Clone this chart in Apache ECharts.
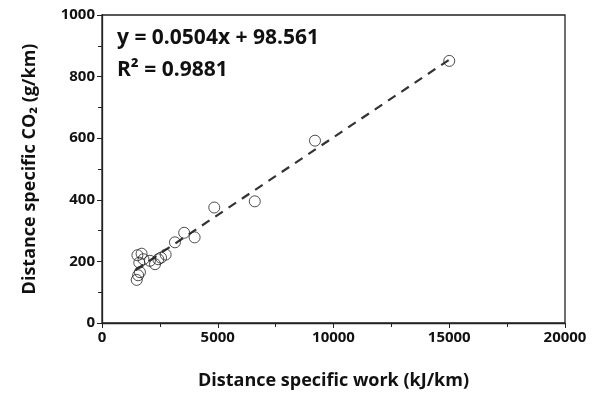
<!DOCTYPE html>
<html>
<head>
<meta charset="utf-8">
<script src="https://cdn.jsdelivr.net/npm/echarts@6/dist/echarts.min.js"></script>
<style>
  html, body { margin: 0; padding: 0; background: #fff; }
  #main { width: 601px; height: 395px; }
</style>
</head>
<body>
<div id="main"></div>
<script>
// work (kJ/km) vs CO2 (g/km)
var workValues = [1500, 1560, 1640, 1530, 1710, 1610, 1790, 2070, 2290, 2430, 2550, 2750,
                  3150, 3550, 4000, 4850, 6600, 9200, 15000];
var co2Values = [140, 155, 165, 220, 225, 196, 207, 202, 191, 207, 212, 222,
                 262, 293, 278, 375, 395, 592, 851];
// ends of the dashed fit line
var trendWork = [1450, 15000];
var trendCo2 = [172, 855];
var xTicks = [0, 5000, 10000, 15000, 20000];
var yTicks = [0, 200, 400, 600, 800, 1000];

var font = '"Open Sans", "DejaVu Sans", sans-serif';

var chartDom = document.getElementById('main');
var myChart = echarts.init(chartDom);

var points = workValues.map(function (w, i) { return [w, co2Values[i]]; });
var trend = trendWork.map(function (w, i) { return [w, trendCo2[i]]; });

var plain = function (v) { return String(v); };

var option = {
    animation: false,
    grid: {
        left: 102,
        right: 36,
        top: 15,
        bottom: 71,
        show: true,
        borderColor: '#222',
        borderWidth: 1.3
    },
    xAxis: {
        type: 'value',
        min: xTicks[0],
        max: xTicks[xTicks.length - 1],
        interval: 5000,
        splitLine: { show: false },
        axisLine: { lineStyle: { color: '#222', width: 1.3 } },
        axisTick: { show: true, length: 5, lineStyle: { color: '#222' } },
        minorTick: { show: true, splitNumber: 2, length: 4, lineStyle: { color: '#222' } },
        axisLabel: { color: '#111', fontFamily: font, fontWeight: 'bold', fontSize: 15, margin: 7, formatter: plain },
        name: 'Distance specific work (kJ/km)',
        nameLocation: 'middle',
        nameGap: 49,
        nameTextStyle: { color: '#111', fontFamily: font, fontWeight: 'bold', fontSize: 18 }
    },
    yAxis: {
        type: 'value',
        min: yTicks[0],
        max: yTicks[yTicks.length - 1],
        interval: 200,
        splitLine: { show: false },
        axisLine: { show: true, lineStyle: { color: '#222', width: 1.3 } },
        axisTick: { show: true, length: 5, lineStyle: { color: '#222' } },
        minorTick: { show: true, splitNumber: 2, length: 4, lineStyle: { color: '#222' } },
        axisLabel: { color: '#111', fontFamily: font, fontWeight: 'bold', fontSize: 15, margin: 7, formatter: plain },
        name: 'Distance specific CO\u2082 (g/km)',
        nameLocation: 'middle',
        nameGap: 63,
        nameTextStyle: { color: '#111', fontFamily: font, fontWeight: 'bold', fontSize: 18 }
    },
    graphic: [
        {
            type: 'text', left: 117, top: 28,
            style: { text: 'y = 0.0504x + 98.561', font: 'bold 21px ' + font, fill: '#111' }
        },
        {
            type: 'text', left: 117, top: 60,
            style: { text: 'R\u00b2 = 0.9881', font: 'bold 21px ' + font, fill: '#111' }
        }
    ],
    series: [
        {
            type: 'line',
            data: trend,
            symbol: 'none',
            z: 1,
            lineStyle: { color: '#333', width: 2.2, type: [9, 7] }
        },
        {
            type: 'scatter',
            data: points,
            symbol: 'circle',
            symbolSize: 11,
            z: 2,
            itemStyle: { color: 'rgba(255,255,255,0)', borderColor: '#222', borderWidth: 1 }
        }
    ]
};

myChart.setOption(option);
</script>
</body>
</html>
